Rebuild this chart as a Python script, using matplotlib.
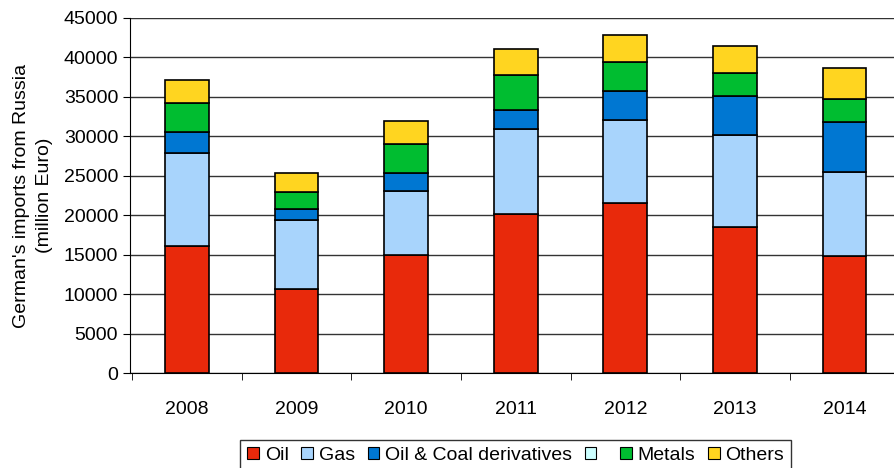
import matplotlib.pyplot as plt
from matplotlib.patches import Patch
import numpy as np

plt.rcParams['font.family'] = ['Liberation Sans', 'DejaVu Sans']

years = ['2008', '2009', '2010', '2011', '2012', '2013', '2014']
oil = [16100, 10650, 14950, 20200, 21600, 18500, 14800]
gas = [11750, 8780, 8150, 10700, 10500, 11700, 10700]
derivatives = [2740, 1400, 2200, 2400, 3700, 4870, 6300]
empty_series = [0, 0, 0, 0, 0, 0, 0]
metals = [3670, 2170, 3730, 4500, 3600, 2930, 2900]
others = [2940, 2300, 2910, 3300, 3500, 3400, 3900]

series = [('Oil', oil, '#e8290b'),
          ('Gas', gas, '#a8d4fc'),
          ('Oil & Coal derivatives', derivatives, '#0077d2'),
          (' ', empty_series, '#ccffff'),
          ('Metals', metals, '#00bd30'),
          ('Others', others, '#ffd520')]

fig = plt.figure(figsize=(8.94, 4.68), dpi=100)
ax = fig.add_axes([130 / 894, 1 - 373 / 468, 766 / 894, 355 / 468])

x = np.arange(len(years))
bottom = np.zeros(len(years))
for name, vals, col in series:
    vals = np.array(vals, dtype=float)
    if vals.sum() > 0:
        ax.bar(x, vals, 0.4, bottom=bottom, color=col, edgecolor='black',
               linewidth=1.2, zorder=3)
    bottom += vals

ax.set_ylim(0, 45000)
ax.set_xlim(-0.52, 6.47)
ax.set_yticks(np.arange(0, 45001, 5000))
ax.yaxis.grid(True, color='#333333', linewidth=1.0, zorder=0)
ax.set_xticks(x)
ax.set_xticklabels(years, fontsize=14)
ax.set_xticks(np.arange(-0.5, 6.5, 1), minor=True)
ax.tick_params(axis='x', which='major', length=0, pad=20)
ax.tick_params(axis='x', which='minor', length=5, direction='out')
ax.tick_params(axis='y', labelsize=14, length=5, direction='out')
for s in ['top', 'right']:
    ax.spines[s].set_visible(False)
ax.axhline(45000, color='#cccccc', linewidth=1.5, zorder=1)
ax.set_ylabel("German's imports from Russia\n(million Euro)", fontsize=14,
              labelpad=8, linespacing=1.45)

handles = [Patch(facecolor=col, edgecolor='black', linewidth=0.8)
           for name, vals, col in series]
labels = [name for name, vals, col in series]
fig.legend(handles, labels, loc='lower center', bbox_to_anchor=(0.577, -0.026),
           ncol=6, fontsize=14, frameon=True, fancybox=False, edgecolor='black',
           handlelength=0.6, handleheight=0.6, handletextpad=0.3,
           columnspacing=0.65, borderpad=0.35)

plt.savefig('out.png', dpi=100)
